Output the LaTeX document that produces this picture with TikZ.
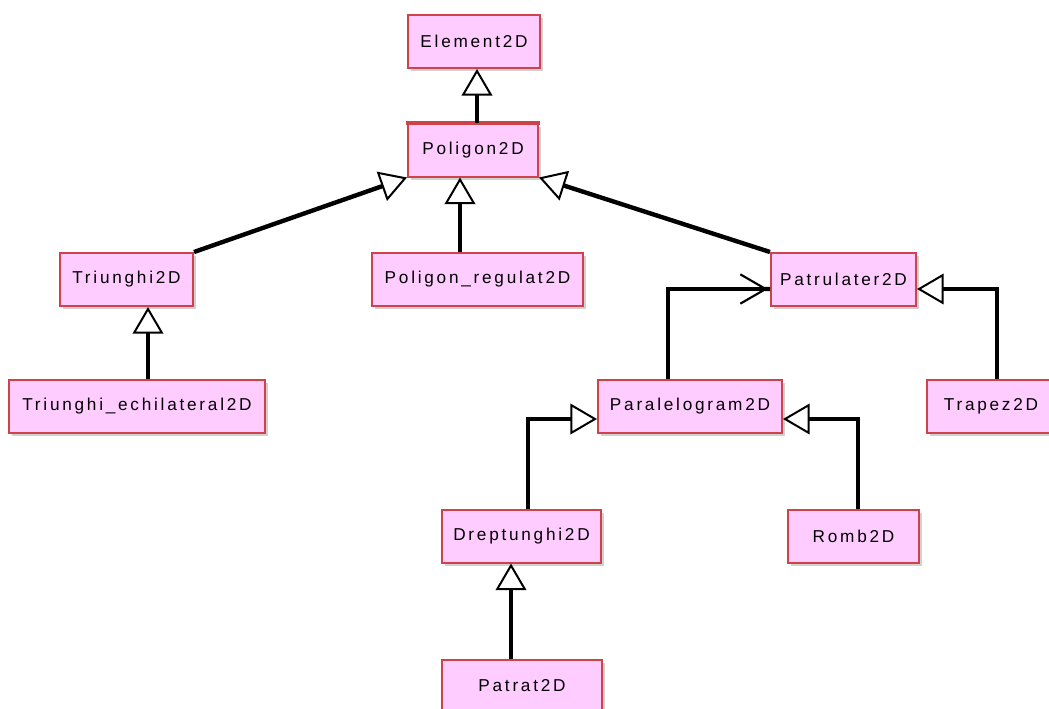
\documentclass[tikz,border=0pt]{standalone}
\usepackage{fontspec}
\newfontfamily\umlfont{Liberation Sans}[LetterSpace=16]
\usetikzlibrary{arrows.meta,shadows,calc}
\definecolor{boxfill}{RGB}{255,204,255}
\definecolor{boxline}{RGB}{206,66,76}
\begin{document}
\begin{tikzpicture}[x=0.75pt,y=-0.75pt,
  cls/.style={draw=boxline, fill=boxfill, line width=1.5pt, minimum height=39.75pt,
    inner sep=0pt, font=\umlfont\fontsize{12.9}{15}\selectfont,
    drop shadow={shadow xshift=2.5pt, shadow yshift=-2.5pt, fill=black!18, opacity=1}},
  gen/.style={line width=3.3pt, -{Triangle[length=20pt, width=23pt, line width=1.5pt, fill=white]}},
  assoc/.style={line width=3.3pt, -{Straight Barb[length=19pt, width=22pt, line width=1.6pt] Butt Cap}}]
\useasboundingbox (0,0) rectangle (1049,708);
\clip (0,0) rectangle (1049,708);

\node[cls, minimum width=99pt]    (elem) at (474,41.5)  {Element2D};
\node[cls, minimum width=97.5pt]  (pol)  at (473,150)   {Poligon2D};
\node[cls, minimum width=99.75pt] (tri)  at (126.5,279.5) {Triunghi2D};
\node[cls, minimum width=192pt]   (trie) at (137,406.5) {Triunghi\_echilateral2D};
\node[cls, minimum width=158.25pt](preg) at (477.5,279.5) {Poligon\_regulat2D};
\node[cls, minimum width=108.75pt](pat)  at (843.5,279.5) {Patrulater2D};
\node[cls, minimum width=138pt]   (par)  at (690,406.5) {Paralelogram2D};
\node[cls, minimum width=96pt]    (trap) at (991,406.5) {Trapez2D};
\node[cls, minimum width=119.25pt](drep) at (521.5,536) {Dreptunghi2D};
\node[cls, minimum width=98.25pt] (romb) at (853.5,536) {Romb2D};
\node[cls, minimum width=120pt]   (patr) at (522,686)   {Patrat2D};

\draw[boxline, line width=3pt] ([xshift=-0.75pt]pol.north west) -- ([xshift=0.75pt]pol.north east);

\draw[gen] (pol.north -| 477,0) -- (elem.south -| 477,0);
\draw[gen] (tri.north east) -- (pol.south west);
\draw[gen] (preg.north -| 460,0) -- (pol.south -| 460,0);
\draw[gen] (pat.north west) -- (pol.south east);
\draw[gen] (trie.north -| 148,0) -- (tri.south -| 148,0);
\draw[assoc] (par.north -| 668,0) |- ($(pat.west)+(0,9.5)$);
\draw[gen] (trap.north -| 997,0) |- ($(pat.east)+(0,9.5)$);
\draw[gen] (drep.north -| 528,0) |- ($(par.west)+(0,12.5)$);
\draw[gen] (romb.north -| 858,0) |- ($(par.east)+(0,12.5)$);
\draw[gen] (patr.north -| 511,0) -- (drep.south -| 511,0);
\end{tikzpicture}
\end{document}
